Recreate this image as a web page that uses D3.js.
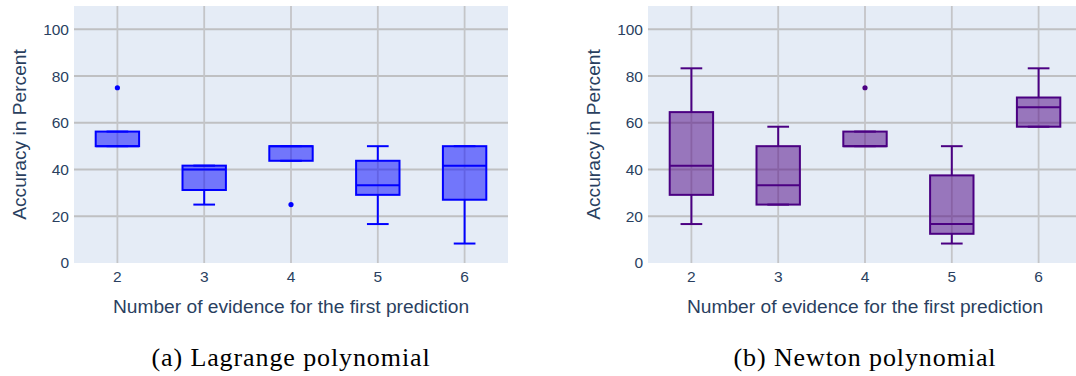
<!DOCTYPE html>
<html>
<head>
<meta charset="utf-8">
<script src="https://cdn.jsdelivr.net/npm/d3@7"></script>
<style>
  html, body { margin: 0; padding: 0; background: #ffffff; }
  svg { display: block; }
</style>
</head>
<body>
<svg id="chart" width="1076" height="376"></svg>
<script>
// Categories: number of evidence items before the first prediction
const categories = ["2", "3", "4", "5", "6"];
const yTicks = [0, 20, 40, 60, 80, 100];

// Lagrange polynomial box statistics (accuracy in percent)
const lagrangeLower  = [50, 25, 43.75, 16.67, 8.33];
const lagrangeQ1     = [50, 31.25, 43.75, 29.17, 27.08];
const lagrangeMedian = [50, 40, 50, 33.33, 41.67];
const lagrangeQ3     = [56.25, 41.67, 50, 43.75, 50];
const lagrangeUpper  = [56.25, 41.67, 50, 50, 50];
const lagrangeOutliers = [[75], [], [25], [], []];

// Newton polynomial box statistics (accuracy in percent)
const newtonLower  = [16.67, 25, 50, 8.33, 58.33];
const newtonQ1     = [29.17, 25, 50, 12.5, 58.33];
const newtonMedian = [41.67, 33.33, 50, 16.67, 66.67];
const newtonQ3     = [64.58, 50, 56.25, 37.5, 70.83];
const newtonUpper  = [83.33, 58.33, 56.25, 50, 83.33];
const newtonOutliers = [[], [], [75], [], []];

const xTitle = "Number of evidence for the first prediction";
const yTitle = "Accuracy in Percent";

const svg = d3.select("#chart");
const textColor = "#2a3f5f";
const sansFont = "'Liberation Sans', Arial, sans-serif";

function buildStats(lo, q1, med, q3, hi, out) {
  return categories.map((c, i) => ({
    cat: c, lo: lo[i], q1: q1[i], med: med[i], q3: q3[i], hi: hi[i], out: out[i]
  }));
}

function drawPanel(opts) {
  const { left, top, width, height, stats, stroke, fill, caption } = opts;
  const g = svg.append("g");

  const x = d3.scaleBand().domain(categories).range([left, left + width]).padding(0);
  const y = d3.scaleLinear().domain([0, 110]).range([top + height, top]);

  // plot background
  g.append("rect")
    .attr("x", left).attr("y", top)
    .attr("width", width).attr("height", height)
    .attr("fill", "#e5ecf6");

  // grid lines
  const grid = g.append("g");
  grid.selectAll("line.h").data(yTicks.filter(t => t > 0)).join("line")
    .attr("x1", left).attr("x2", left + width)
    .attr("y1", d => y(d)).attr("y2", d => y(d))
    .attr("stroke", "#bfc0c2").attr("stroke-width", 2);
  grid.selectAll("line.v").data(categories).join("line")
    .attr("x1", d => x(d) + x.bandwidth() / 2).attr("x2", d => x(d) + x.bandwidth() / 2)
    .attr("y1", top).attr("y2", top + height)
    .attr("stroke", "#c4c5c8").attr("stroke-width", 1.8);

  // y axis tick labels
  const yAxis = d3.axisLeft(y).tickValues(yTicks).tickSize(0).tickPadding(5);
  const yg = g.append("g").attr("transform", `translate(${left},0)`).call(yAxis);
  yg.select(".domain").remove();
  yg.selectAll("text")
    .attr("fill", textColor).attr("font-size", "15.5px").attr("font-family", sansFont);

  // x axis tick labels
  const xAxis = d3.axisBottom(x).tickSize(0).tickPadding(8);
  const xg = g.append("g").attr("transform", `translate(0,${top + height})`).call(xAxis);
  xg.select(".domain").remove();
  xg.selectAll("text")
    .attr("fill", textColor).attr("font-size", "15.5px").attr("font-family", sansFont);

  // axis titles
  g.append("text")
    .attr("x", left + width / 2).attr("y", 313)
    .attr("text-anchor", "middle")
    .attr("fill", textColor).attr("font-size", "19.2px").attr("font-family", sansFont)
    .text(xTitle);
  g.append("text")
    .attr("transform", `translate(${left - 48},${top + height / 2}) rotate(-90)`)
    .attr("text-anchor", "middle")
    .attr("fill", textColor).attr("font-size", "19.2px").attr("font-family", sansFont)
    .text(yTitle);

  // boxes
  const boxW = x.bandwidth() * 0.5;
  const capW = boxW * 0.5;
  const boxes = g.append("g").selectAll("g").data(stats).join("g")
    .attr("transform", d => `translate(${x(d.cat) + x.bandwidth() / 2},0)`);

  // whiskers
  boxes.append("line")
    .attr("x1", 0).attr("x2", 0)
    .attr("y1", d => y(d.q3)).attr("y2", d => y(d.hi))
    .attr("stroke", stroke).attr("stroke-width", 2);
  boxes.append("line")
    .attr("x1", 0).attr("x2", 0)
    .attr("y1", d => y(d.q1)).attr("y2", d => y(d.lo))
    .attr("stroke", stroke).attr("stroke-width", 2);
  boxes.append("line")
    .attr("x1", -capW / 2).attr("x2", capW / 2)
    .attr("y1", d => y(d.hi)).attr("y2", d => y(d.hi))
    .attr("stroke", stroke).attr("stroke-width", 2);
  boxes.append("line")
    .attr("x1", -capW / 2).attr("x2", capW / 2)
    .attr("y1", d => y(d.lo)).attr("y2", d => y(d.lo))
    .attr("stroke", stroke).attr("stroke-width", 2);

  // box body
  boxes.append("rect")
    .attr("x", -boxW / 2).attr("width", boxW)
    .attr("y", d => y(d.q3)).attr("height", d => Math.max(0, y(d.q1) - y(d.q3)))
    .attr("fill", fill).attr("fill-opacity", 0.5)
    .attr("stroke", stroke).attr("stroke-width", 2);

  // median
  boxes.append("line")
    .attr("x1", -boxW / 2).attr("x2", boxW / 2)
    .attr("y1", d => y(d.med)).attr("y2", d => y(d.med))
    .attr("stroke", stroke).attr("stroke-width", 2);

  // outliers
  boxes.selectAll("circle").data(d => d.out).join("circle")
    .attr("cx", 0).attr("cy", v => y(v)).attr("r", 2.6)
    .attr("fill", stroke);

  // caption
  g.append("text")
    .attr("x", left + width / 2).attr("y", 366)
    .attr("text-anchor", "middle")
    .attr("fill", "#000").attr("font-size", "26px")
    .attr("font-family", "'Liberation Serif', 'Times New Roman', serif")
    .attr("letter-spacing", "0.9px")
    .text(caption);
}

drawPanel({
  left: 74, top: 6, width: 434, height: 257,
  stats: buildStats(lagrangeLower, lagrangeQ1, lagrangeMedian, lagrangeQ3, lagrangeUpper, lagrangeOutliers),
  stroke: "#0000ff", fill: "#0000ff",
  caption: "(a) Lagrange polynomial"
});

drawPanel({
  left: 648, top: 6, width: 434, height: 257,
  stats: buildStats(newtonLower, newtonQ1, newtonMedian, newtonQ3, newtonUpper, newtonOutliers),
  stroke: "#4b0082", fill: "#4b0082",
  caption: "(b) Newton polynomial"
});
</script>
</body>
</html>
